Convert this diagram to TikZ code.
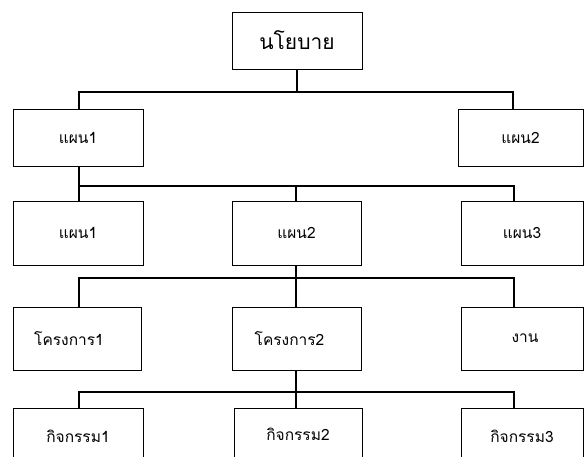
\documentclass[tikz,border=0pt]{standalone}
\usepackage{fontspec}
\newfontfamily\thaifont[Script=Thai]{Loma}
\tikzset{
  box/.style={draw=black, line width=0.8pt, fill=white, inner sep=0pt, font=\thaifont\fontsize{15.5}{17}\selectfont},
  conn/.style={draw=black, line width=1.4pt, line cap=rect},
}
\begin{document}
\begin{tikzpicture}[x=1pt,y=-1pt]
\clip (0,0) rectangle (584,457);
\fill[white] (0,0) rectangle (584,457);
% level 1
\node[box, minimum width=130pt, minimum height=57pt, font=\thaifont\fontsize{21}{23}\selectfont] (top) at (297,40.5) {นโยบาย};
% level 2
\node[box, minimum width=130pt, minimum height=57pt] (p1) at (78,137.5) {แผน1};
\node[box, minimum width=125pt, minimum height=57pt] (p2) at (520.5,137.5) {แผน2};
% level 3
\node[box, minimum width=130pt, minimum height=64pt] (q1) at (78,233) {แผน1};
\node[box, minimum width=129pt, minimum height=64pt] (q2) at (296.5,233) {แผน2};
\node[box, minimum width=122pt, minimum height=64pt] (q3) at (522,233) {แผน3};
% level 4
\node[box, minimum width=128pt, minimum height=63pt] (r1) at (77,338.5) {\hspace*{-16pt}โครงการ1};
\node[box, minimum width=129pt, minimum height=63pt] (r2) at (296.5,338.5) {\hspace*{-14pt}โครงการ2};
\node[box, minimum width=122pt, minimum height=63pt] (r3) at (522,338.5) {งาน\hspace*{-6pt}};
% level 5
\node[box, minimum width=130pt, minimum height=56pt] (s1) at (78,436) {กิจกรรม1};
\node[box, minimum width=128pt, minimum height=56pt] (s2) at (298,436) {\raisebox{4pt}{กิจกรรม2}};
\node[box, minimum width=122pt, minimum height=56pt] (s3) at (522,436) {กิจกรรม3};
% bus coordinates
\coordinate (b1l) at (79,92);   \coordinate (b1r) at (513,92);
\coordinate (b2l) at (79,186);  \coordinate (b2r) at (514,186);
\coordinate (b3l) at (79,278);  \coordinate (b3r) at (514,278);
\coordinate (b4l) at (79,392);  \coordinate (b4r) at (514,392);
% level 1 -> 2
\draw[conn] (top.south) -- (top.south |- b1l);
\draw[conn] (p1.north -| b1l) -- (b1l) -- (b1r) -- (p2.north -| b1r);
% level 2 -> 3
\draw[conn] (p1.south -| b2l) -- (q1.north -| b2l);
\draw[conn] (b2l) -- (b2r) -- (q3.north -| b2r);
\draw[conn] (q2.north -| 296,0) -- (296,186);
% level 3 -> 4
\draw[conn] (q2.south -| 296,0) -- (296,278);
\draw[conn] (r1.north -| b3l) -- (b3l) -- (b3r) -- (r3.north -| b3r);
\draw[conn] (296,278) -- (r2.north -| 296,0);
% level 4 -> 5
\draw[conn] (r2.south -| 296,0) -- (296,392);
\draw[conn] (s1.north -| b4l) -- (b4l) -- (b4r) -- (s3.north -| b4r);
\draw[conn] (296,392) -- (s2.north -| 296,0);
\end{tikzpicture}
\end{document}
